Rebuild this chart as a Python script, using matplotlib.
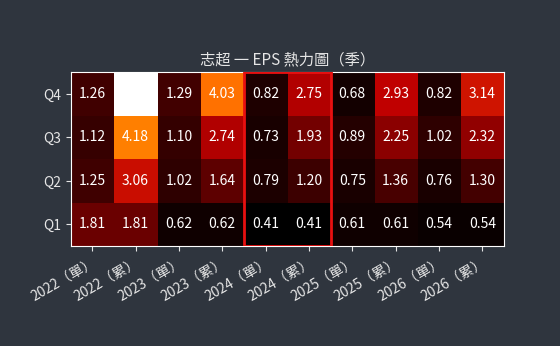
import matplotlib
matplotlib.use("Agg")
import matplotlib.pyplot as plt
import numpy as np
from matplotlib.patches import Rectangle

plt.rcParams['font.family'] = ['Noto Sans CJK TC', 'DejaVu Sans']

columns = ["2022（單）", "2022（累）", "2023（單）", "2023（累）", "2024（單）",
           "2024（累）", "2025（單）", "2025（累）", "2026（單）", "2026（累）"]
rows = ["Q1", "Q2", "Q3", "Q4"]
# values per column: Q1, Q2, Q3, Q4
v_2022_s = [1.81, 1.25, 1.12, 1.26]
v_2022_c = [1.81, 3.06, 4.18, 5.44]
v_2023_s = [0.62, 1.02, 1.10, 1.29]
v_2023_c = [0.62, 1.64, 2.74, 4.03]
v_2024_s = [0.41, 0.79, 0.73, 0.82]
v_2024_c = [0.41, 1.20, 1.93, 2.75]
v_2025_s = [0.61, 0.75, 0.89, 0.68]
v_2025_c = [0.61, 1.36, 2.25, 2.93]
v_2026_s = [0.54, 0.76, 1.02, 0.82]
v_2026_c = [0.54, 1.30, 2.32, 3.14]
highlight_col = "2024（單）"

data = np.array([v_2022_s, v_2022_c, v_2023_s, v_2023_c, v_2024_s,
                 v_2024_c, v_2025_s, v_2025_c, v_2026_s, v_2026_c]).T

bg = '#2f353e'
fg = '#e6e6e6'
fig = plt.figure(figsize=(5.6, 3.46), dpi=100, facecolor=bg)
ax = fig.add_axes([0.126, 0.289, 0.774, 0.502])
ax.set_facecolor(bg)
ax.imshow(data, cmap='gist_heat', origin='lower', aspect='auto',
          vmin=data.min(), vmax=data.max())
for i in range(data.shape[0]):
    for j in range(data.shape[1]):
        ax.text(j, i, f"{data[i, j]:.2f}", ha='center', va='center',
                color='white', fontsize=10)

hc = columns.index(highlight_col)
ax.add_patch(Rectangle((hc - 0.5, -0.5), 2, len(rows), fill=False,
                       edgecolor='#e81010', linewidth=2, zorder=5))

ax.set_xticks(range(len(columns)))
ax.set_xticklabels(columns, rotation=30, ha='right', rotation_mode='anchor')
ax.set_yticks(range(len(rows)))
ax.set_yticklabels(rows)
ax.tick_params(colors=fg, labelsize=10)
for s in ax.spines.values():
    s.set_color('white')
ax.set_title("志超 一 EPS 熱力圖（季）", color=fg, fontsize=11, pad=6)

fig.savefig("out.png", dpi=100, facecolor=bg)
